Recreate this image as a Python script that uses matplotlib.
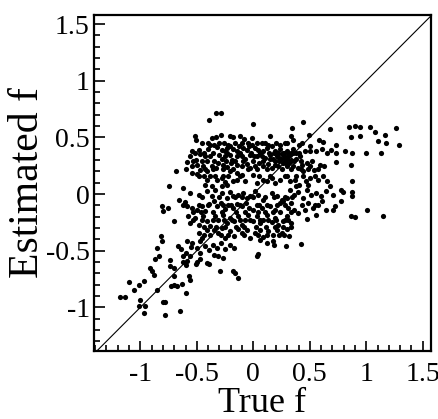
import numpy as np
import matplotlib
matplotlib.use("Agg")
import matplotlib.pyplot as plt
from matplotlib.ticker import MultipleLocator

# points, grouped in horizontal bands (top to bottom)
x_a = [-0.33, -0.29, -0.39, 0.0, 0.44, 0.34, 0.68, 0.85, 0.90, 0.94, 1.03, 1.08, 1.26]
y_a = [0.715, 0.715, 0.65, 0.62, 0.635, 0.58, 0.57, 0.59, 0.60, 0.59, 0.59, 0.55, 0.58]

x_b = [-0.515, -0.506, -0.368, -0.329, -0.285, -0.206, -0.182, -0.118, -0.082, -0.015, 0.147, 0.338, 0.347,
       0.491, 0.582, 0.618, 0.735, 0.868, 0.941, 1.103, 1.168, 1.176, 1.288, 0.432, 0.5]
y_b = [0.509, 0.479, 0.494, 0.503, 0.524, 0.509, 0.503, 0.509, 0.485, 0.494, 0.515, 0.509, 0.479,
       0.518, 0.479, 0.456, 0.429, 0.503, 0.509, 0.465, 0.524, 0.45, 0.429, 0.45, 0.421]

x_c = [-0.544, -0.485, -0.471, -0.397, -0.347, -0.318, -0.279, -0.25, -0.235, -0.206, -0.176, -0.147,
       -0.124, -0.094, -0.059, -0.035, 0.015, 0.044, 0.074, 0.088, 0.118, 0.162, 0.191, 0.235, 0.259,
       0.294, 0.324, 0.353, 0.382, 0.412, 0.456, 0.5, 0.559, 0.612, 0.653, 0.691, 0.735, 0.809, 0.876,
       1.0, 1.132, -0.588, -0.559, -0.506, -0.426, -0.412, -0.382, -0.3, -0.279, -0.25, -0.206, -0.191,
       -0.147, -0.103, -0.074, -0.029, 0.006, 0.035, 0.074, 0.103, 0.147, 0.171, 0.206, 0.241, 0.271,
       0.3, 0.338, 0.374]
y_c = [0.376, 0.385, 0.356, 0.397, 0.435, 0.415, 0.391, 0.376, 0.406, 0.421, 0.397, 0.376,
       0.421, 0.406, 0.391, 0.421, 0.406, 0.391, 0.45, 0.376, 0.406, 0.421, 0.376, 0.397, 0.362,
       0.376, 0.347, 0.397, 0.362, 0.332, 0.376, 0.376, 0.376, 0.397, 0.362, 0.391, 0.362, 0.376, 0.362,
       0.362, 0.362, 0.279, 0.332, 0.303, 0.332, 0.288, 0.332, 0.347, 0.309, 0.332, 0.347, 0.303,
       0.332, 0.332, 0.309, 0.347, 0.332, 0.338, 0.332, 0.318, 0.347, 0.309, 0.332, 0.309, 0.332,
       0.309, 0.303, 0.309]

x_d = [-0.682, -0.544, -0.5, -0.471, -0.441, -0.412, -0.368, -0.329, -0.309, -0.265, -0.229, -0.2,
       -0.147, -0.103, -0.059, -0.029, 0.015, 0.053, 0.088, 0.132, 0.162, 0.191, 0.221, 0.259, 0.294,
       0.318, 0.353, 0.397, 0.435, 0.471, 0.5, 0.535, 0.588, 0.624, 0.735, 0.868, 0.441, -0.206,
       -0.147, -0.544, -0.5]
y_d = [0.206, 0.244, 0.259, 0.215, 0.244, 0.2, 0.25, 0.229, 0.274, 0.259, 0.238, 0.274,
       0.259, 0.244, 0.268, 0.229, 0.244, 0.274, 0.244, 0.268, 0.229, 0.259, 0.25, 0.274, 0.244,
       0.274, 0.244, 0.229, 0.259, 0.274, 0.244, 0.215, 0.259, 0.244, 0.279, 0.253, 0.2, 0.2,
       0.185, 0.185, 0.179]

x_e = [-0.485, -0.412, -0.382, -0.324, -0.279, -0.25, -0.221, -0.182, -0.147, -0.103, -0.074, 0.0,
       0.029, 0.082, 0.118, 0.162, 0.191, 0.235, 0.279, 0.324, 0.368, 0.406, 0.441, 0.465, 0.5, 0.574,
       0.618, 0.653, 0.876, -0.744, -0.426, -0.368, -0.279, -0.235, 0.382, 0.485, 0.676]
y_e = [0.156, 0.126, 0.156, 0.126, 0.141, 0.103, 0.156, 0.112, 0.126, 0.171, 0.112, 0.171,
       0.097, 0.126, 0.112, 0.141, 0.097, 0.126, 0.156, 0.112, 0.126, 0.082, 0.156, 0.112, 0.141, 0.126,
       0.162, 0.112, 0.118, 0.068, 0.082, 0.074, 0.068, 0.082, 0.068, 0.082, 0.068]

x_f = [-0.624, -0.559, -0.485, -0.412, -0.368, -0.338, -0.279, -0.235, -0.206, -0.176, -0.132, -0.088,
       -0.059, -0.029, 0.015, 0.044, 0.088, 0.162, 0.206, 0.25, 0.294, 0.324, 0.359, 0.397, 0.441,
       0.471, 0.515, 0.559, 0.603, 0.647, 0.706, 0.779, 0.794, 0.876, 0.876, -0.662, -0.603]
y_f = [0.053, 0.009, -0.006, 0.024, -0.021, 0.038, 0.009, -0.035, 0.015, -0.021, -0.006, 0.009,
       -0.035, -0.021, 0.024, -0.006, -0.05, 0.009, -0.021, -0.05, -0.035, 0.038, -0.006, 0.015, -0.035,
       0.038, -0.006, 0.009, -0.021, 0.024, -0.006, 0.038, 0.015, 0.015, -0.021, -0.05, -0.074]

x_g = [-0.809, -0.8, -0.756, -0.588, -0.544, -0.5, -0.456, -0.426, -0.388, -0.347, -0.324, -0.288,
       -0.25, -0.221, -0.182, -0.147, -0.103, -0.065, -0.035, 0.0, 0.029, 0.074, 0.103, 0.147, 0.191,
       0.235, 0.265, 0.309, 0.338, 0.359, 0.397, 0.456, 0.485, 0.529, 0.574, 0.612, 0.647, 0.706,
       0.779, 0.721, 1.009]
y_g = [-0.109, -0.153, -0.124, -0.109, -0.124, -0.138, -0.109, -0.153, -0.085, -0.065, -0.109, -0.079,
       -0.132, -0.094, -0.124, -0.085, -0.109, -0.079, -0.124, -0.138, -0.094, -0.124, -0.162, -0.109, -0.138,
       -0.079, -0.065, -0.124, -0.079, -0.144, -0.168, -0.138, -0.079, -0.124, -0.094, -0.065, -0.138, -0.138,
       -0.065, -0.109, -0.144]

x_h = [-0.706, -0.574, -0.559, -0.515, -0.485, -0.441, -0.412, -0.382, -0.338, -0.309, -0.271, -0.235,
       -0.206, -0.171, -0.132, -0.103, -0.074, -0.044, -0.006, 0.029, 0.059, 0.088, 0.118, 0.162, 0.191,
       0.221, 0.259, 0.294, 0.338, 0.471, 0.559, 0.868, 0.897, 1.147]
y_h = [-0.241, -0.197, -0.256, -0.212, -0.271, -0.197, -0.241, -0.279, -0.191, -0.226, -0.182, -0.256,
       -0.212, -0.241, -0.197, -0.271, -0.226, -0.182, -0.241, -0.197, -0.256, -0.226, -0.182, -0.25, -0.212,
       -0.271, -0.241, -0.197, -0.256, -0.221, -0.182, -0.191, -0.203, -0.197]

x_i = [-0.815, -0.412, -0.382, -0.347, -0.309, -0.279, -0.25, -0.206, -0.171, -0.132, -0.103, -0.059,
       -0.029, 0.015, 0.059, 0.088, 0.132, 0.171, 0.206, 0.25, 0.294, 0.318, -0.485, -0.456]
y_i = [-0.368, -0.315, -0.359, -0.315, -0.344, -0.3, -0.388, -0.329, -0.374, -0.309, -0.344, -0.315,
       -0.388, -0.344, -0.315, -0.379, -0.329, -0.359, -0.315, -0.344, -0.309, -0.374, -0.344, -0.388]

x_j = [-0.809, -0.853, -0.668, -0.641, -0.588, -0.544, -0.5, -0.471, -0.426, -0.388, -0.353, -0.324,
       -0.288, -0.25, -0.206, -0.171, 0.171, 0.182, 0.285, 0.418, 0.059, 0.118]
y_j = [-0.418, -0.476, -0.462, -0.485, -0.418, -0.432, -0.476, -0.418, -0.462, -0.497, -0.447, -0.476,
       -0.432, -0.485, -0.447, -0.476, -0.418, -0.447, -0.462, -0.441, -0.403, -0.432]

x_k = [-0.868, -0.832, -0.741, -0.735, -0.618, -0.588, -0.594, -0.559, -0.506, -0.494, -0.471, -0.412,
       -0.391, -0.347, -0.309, -0.265, 0.044, 0.035, -0.594]
y_k = [-0.574, -0.544, -0.579, -0.632, -0.55, -0.594, -0.624, -0.55, -0.618, -0.6, -0.574, -0.609,
       -0.618, -0.535, -0.544, -0.565, -0.529, -0.55, -0.52]

x_l = [-0.918, -0.897, -0.876, -0.294, -0.182, -0.162, -0.138, -0.706, -0.565, -0.559, -1.103, -1.015,
       -0.971, -0.726, -0.706, -0.671, -0.632]
y_l = [-0.653, -0.682, -0.712, -0.682, -0.682, -0.697, -0.741, -0.726, -0.726, -0.756, -0.779, -0.8,
       -0.771, -0.815, -0.8, -0.809, -0.794]

x_m = [-1.059, -0.853, -0.594, -1.176, -1.132, -1.0, -0.8, -0.785, -1.015, -0.956, -0.971, -0.647, -0.785]
y_m = [-0.844, -0.844, -0.874, -0.909, -0.909, -0.932, -0.956, -0.953, -0.991, -0.991, -1.05, -1.029, -1.065]

# extra points in the dense upper cluster
x_up = [-0.45, -0.40, -0.30, -0.26, -0.16, -0.10, -0.05, 0.03, 0.10, 0.20, 0.28, 0.30,
        -0.38, -0.22, -0.01, 0.13, 0.24, 0.40,
        -0.52, -0.44, -0.36, -0.23, -0.12, -0.02, 0.06, 0.14, 0.22, 0.27, 0.31, 0.35, 0.40,
        -0.53, -0.45, -0.35, -0.24, -0.16, -0.09, 0.0, 0.09, 0.19, 0.23, 0.28, 0.33, 0.36, 0.42, 0.52,
        -0.60, -0.43, -0.36, -0.27, -0.18, -0.05, 0.03, 0.12, 0.25, 0.33, 0.42, 0.48, 0.57,
        -0.44, -0.34, -0.27, -0.12, 0.05, 0.15, 0.30, 0.38, 0.55,
        0.22, 0.25, 0.28, 0.31, 0.29, 0.33, 0.18, 0.15]
y_up = [0.45, 0.45, 0.45, 0.45, 0.45, 0.45, 0.45, 0.45, 0.45, 0.45, 0.45, 0.45,
        0.43, 0.43, 0.43, 0.43, 0.43, 0.43,
        0.36, 0.36, 0.36, 0.36, 0.36, 0.36, 0.36, 0.36, 0.36, 0.36, 0.36, 0.36, 0.36,
        0.29, 0.29, 0.29, 0.29, 0.29, 0.29, 0.29, 0.29, 0.29, 0.29, 0.29, 0.29, 0.29, 0.29, 0.29,
        0.22, 0.22, 0.22, 0.22, 0.22, 0.22, 0.22, 0.22, 0.22, 0.22, 0.22, 0.22, 0.22,
        0.16, 0.16, 0.16, 0.16, 0.16, 0.16, 0.16, 0.16, 0.16,
        0.33, 0.35, 0.32, 0.34, 0.27, 0.36, 0.36, 0.31]

# extra points in the dense lower cluster and the diagonal band
x_lo = [-0.45, -0.30, -0.16, -0.10, 0.0, 0.10, 0.18, 0.28, 0.34,
        -0.62, -0.48, -0.40, -0.27, -0.20, -0.12, 0.05, 0.12, 0.21, 0.28, 0.43, 0.55,
        -0.53, -0.46, -0.36, -0.28, -0.15, -0.07, 0.04, 0.17, 0.24, 0.33,
        -0.53, -0.45, -0.36, -0.26, -0.19, -0.12, -0.03, 0.06, 0.13, 0.20, 0.28, 0.31,
        -0.44, -0.33, -0.25, -0.15, -0.08, 0.02, 0.11, 0.19, 0.26, 0.33,
        -0.44, -0.29, -0.22, -0.08, 0.04, 0.12, 0.23, 0.27,
        -0.55, -0.47, -0.62, -0.70]
y_lo = [-0.03, -0.03, -0.03, -0.03, -0.03, -0.03, -0.03, -0.03, -0.03,
        -0.10, -0.10, -0.10, -0.10, -0.10, -0.10, -0.10, -0.10, -0.10, -0.10, -0.10, -0.10,
        -0.16, -0.16, -0.16, -0.16, -0.16, -0.16, -0.16, -0.16, -0.16, -0.16,
        -0.23, -0.23, -0.23, -0.23, -0.23, -0.23, -0.23, -0.23, -0.23, -0.23, -0.23, -0.23,
        -0.29, -0.29, -0.29, -0.29, -0.29, -0.29, -0.29, -0.29, -0.29, -0.29,
        -0.36, -0.36, -0.36, -0.36, -0.36, -0.36, -0.36, -0.36,
        -0.47, -0.52, -0.60, -0.65]

tick_vals = [-1, -0.5, 0, 0.5, 1, 1.5]
tick_text = ["-1", "-0.5", "0", "0.5", "1", "1.5"]

true_f = np.concatenate([x_a, x_b, x_c, x_d, x_e, x_f, x_g, x_h, x_i, x_j, x_k, x_l, x_m, x_up, x_lo])
est_f = np.concatenate([y_a, y_b, y_c, y_d, y_e, y_f, y_g, y_h, y_i, y_j, y_k, y_l, y_m, y_up, y_lo])

plt.rcParams["font.family"] = ["Liberation Serif", "DejaVu Serif"]

fig = plt.figure(figsize=(4.39, 4.19), dpi=100)
ax = fig.add_axes([0.2141, 0.1623, 0.767, 0.8019])

ax.plot([-1.5, 1.7], [-1.5, 1.7], color="black", lw=0.8, zorder=1)
ax.scatter(true_f, est_f, s=14, color="black", linewidths=0, zorder=2)

ax.set_xlim(-1.41, 1.57)
ax.set_ylim(-1.385, 1.58)

ax.set_xticks(tick_vals)
ax.set_xticklabels(tick_text)
ax.set_yticks(tick_vals)
ax.set_yticklabels(tick_text)
ax.xaxis.set_minor_locator(MultipleLocator(0.1))
ax.yaxis.set_minor_locator(MultipleLocator(0.1))
ax.tick_params(which="both", direction="in", top=False, right=False, width=1.2, labelsize=20)
ax.tick_params(axis="x", which="major", length=7, pad=8)
ax.tick_params(axis="y", which="major", length=8, pad=3)
ax.tick_params(which="minor", length=4)

for s in ax.spines.values():
    s.set_linewidth(1.6)

ax.set_xlabel("True f", fontsize=26, labelpad=0)
ax.set_ylabel("Estimated f", fontsize=30, labelpad=-1)

fig.savefig("out.png", dpi=100)
